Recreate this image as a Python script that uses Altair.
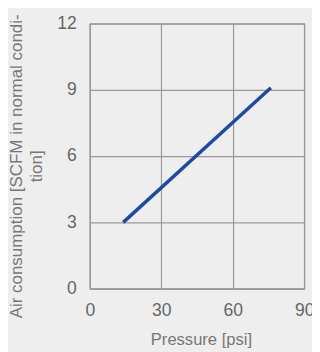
import altair as alt
import pandas as pd

pressure = [14, 76]
air = [3.0, 9.1]

df = pd.DataFrame({"p": pressure, "a": air})

FONT = "Liberation Sans"

chart = alt.Chart(df).mark_line(color="#1f4aa0", strokeWidth=3.5).encode(
    x=alt.X("p:Q", scale=alt.Scale(domain=[0, 90], nice=False),
            axis=alt.Axis(values=[0, 30, 60, 90], title="Pressure [psi]",
                          labelPadding=14, titlePadding=12, titleX=114)),
    y=alt.Y("a:Q", scale=alt.Scale(domain=[0, 12], nice=False),
            axis=alt.Axis(values=[0, 3, 6, 9, 12],
                          title=["Air consumption [SCFM in normal condi-", "tion]"],
                          titleY=146, titleLineHeight=20, titlePadding=12,
                          titleFontSize=17.4, labelPadding=14)),
).properties(width=220, height=272, background="#eeeeee",
             autosize=alt.AutoSizeParams(type="none"),
             padding={"left": 84, "top": 11.5, "right": 8, "bottom": 60})

chart = chart.configure_view(stroke="#999999", strokeWidth=1.2).configure_axis(
    domainColor="#999999", gridColor="#999999", gridWidth=1.2, domainWidth=1.2,
    ticks=False, labelFont=FONT, labelFontSize=18,
    labelColor="#666666", titleFont=FONT, titleFontSize=17,
    titleFontWeight="normal", titleColor="#777777", labelFlush=False,
)

chart.save("out.html", embed_options={"renderer": "svg", "actions": False})
